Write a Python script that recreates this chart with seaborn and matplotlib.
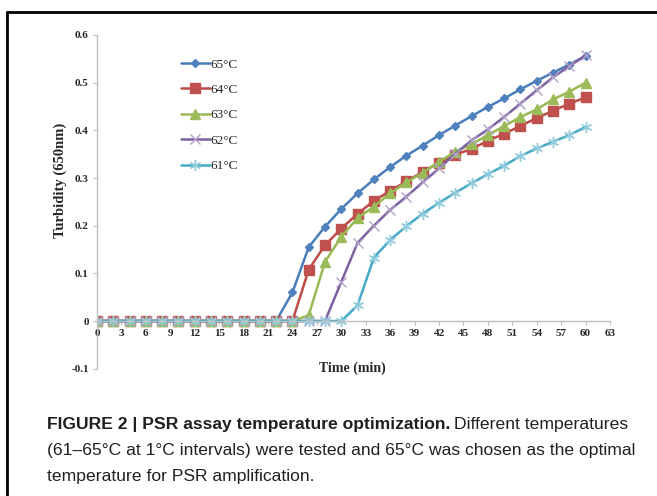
import matplotlib
matplotlib.use("Agg")
import matplotlib.pyplot as plt
import matplotlib.lines as mlines
import pandas as pd
import seaborn as sns

# Tiempo (min) y turbidez por temperatura
tiempo = [0, 2, 4, 6, 8, 10, 12, 14, 16, 18, 20, 22, 24, 26, 28, 30,
          32, 34, 36, 38, 40, 42, 44, 46, 48, 50, 52, 54, 56, 58, 60]
t65 = [0, 0, 0, 0, 0, 0, 0, 0, 0, 0, 0, 0, 0.060, 0.155, 0.198, 0.235,
       0.268, 0.297, 0.323, 0.347, 0.368, 0.390, 0.410, 0.430, 0.449, 0.467,
       0.486, 0.504, 0.521, 0.538, 0.556]
t64 = [0, 0, 0, 0, 0, 0, 0, 0, 0, 0, 0, 0, 0, 0.108, 0.159, 0.194,
       0.225, 0.252, 0.273, 0.293, 0.313, 0.332, 0.349, 0.361, 0.378, 0.393,
       0.409, 0.426, 0.441, 0.456, 0.469]
t63 = [0, 0, 0, 0, 0, 0, 0, 0, 0, 0, 0, 0, 0, 0.012, 0.124, 0.177,
       0.216, 0.240, 0.268, 0.291, 0.311, 0.334, 0.355, 0.371, 0.390, 0.409,
       0.428, 0.444, 0.465, 0.481, 0.500]
t62 = [0, 0, 0, 0, 0, 0, 0, 0, 0, 0, 0, 0, 0, 0, 0, 0.082,
       0.164, 0.200, 0.233, 0.261, 0.291, 0.320, 0.351, 0.379, 0.402, 0.428,
       0.456, 0.484, 0.511, 0.535, 0.557]
t61 = [0, 0, 0, 0, 0, 0, 0, 0, 0, 0, 0, 0, 0, 0, 0, 0,
       0.033, 0.133, 0.170, 0.199, 0.225, 0.248, 0.269, 0.289, 0.308, 0.326,
       0.346, 0.362, 0.376, 0.390, 0.407]

etiquetas = ["65°C", "64°C", "63°C", "62°C", "61°C"]
x_ticks = [0, 3, 6, 9, 12, 15, 18, 21, 24, 27, 30, 33, 36, 39, 42, 45, 48, 51, 54, 57, 60, 63]
x_labels = [str(v) for v in x_ticks]
y_ticks = [-0.1, 0, 0.1, 0.2, 0.3, 0.4, 0.5, 0.6]
y_labels = ["-0.1", "0", "0.1", "0.2", "0.3", "0.4", "0.5", "0.6"]

# estilos (linea, marcador, color marcador, tamaño)
estilos = [
    ("#4A7EBB", "D", "#4F81BD", 4.5),
    ("#BE4B48", "s", "#C0504D", 7),
    ("#98B954", "^", "#9BBB59", 7),
    ("#7D60A0", "x", "#B3A2C7", 7),
    ("#46AAC5", (6, 2, 0), "#93CDDD", 8),
]

sns.set_style("white")
serif = "Liberation Serif"

fig = plt.figure(figsize=(6.57, 4.96), dpi=100)
ax = fig.add_axes([97 / 657, 1 - 368.7 / 496, 513 / 657, (368.7 - 35) / 496])

handles = []
for serie, lab, (lc, mk, mc, ms) in zip([t65, t64, t63, t62, t61], etiquetas, estilos):
    df = pd.DataFrame({"Tiempo": tiempo, "Turbidez": serie})
    sns.lineplot(data=df, x="Tiempo", y="Turbidez", ax=ax, color=lc, linewidth=1.8,
                 marker=mk, markersize=ms, markerfacecolor=mc, markeredgecolor=mc,
                 markeredgewidth=1.0)
    handles.append(mlines.Line2D([], [], color=lc, linewidth=1.8, marker=mk,
                                 markersize=ms, markerfacecolor=mc,
                                 markeredgecolor=mc, label=lab))

ax.spines["top"].set_visible(False)
ax.spines["right"].set_visible(False)
ax.spines["bottom"].set_position(("data", 0))
for s in ["left", "bottom"]:
    ax.spines[s].set_color("#BFBFBF")
    ax.spines[s].set_linewidth(1.0)

ax.set_xlim(0, 63)
ax.set_ylim(-0.1, 0.6)
ax.set_xticks(x_ticks)
ax.set_xticklabels(x_labels, family=serif, weight="bold", fontsize=8)
ax.set_yticks(y_ticks)
ax.set_yticklabels(y_labels, family=serif, weight="bold", fontsize=8)
ax.tick_params(axis="both", direction="out", length=3, width=0.8, color="#BFBFBF",
               pad=3, bottom=True, left=True)

ax.set_xlabel("")
ax.set_ylabel("")
fig.text(352 / 657, 1 - 368 / 496, "Time (min)", ha="center", va="center",
         family=serif, weight="bold", fontsize=10)
fig.text(60 / 657, 1 - 180 / 496, "Turbidity (650nm)", ha="center", va="center",
         rotation=90, family=serif, weight="bold", fontsize=10.5)

ax.legend(handles=handles, loc="upper left", bbox_to_anchor=(0.163, 0.93),
          frameon=False, prop={"family": serif, "size": 9.5}, handlelength=2.2,
          handletextpad=0.05, labelspacing=1.0, borderpad=0, borderaxespad=0)

# marco de la figura
fig.add_artist(mlines.Line2D([7 / 657, 1], [1 - 12 / 496, 1 - 12 / 496],
                             color="black", linewidth=2))
fig.add_artist(mlines.Line2D([7 / 657, 7 / 657], [0, 1 - 12 / 496],
                             color="black", linewidth=2))

# leyenda de la figura
cap_font = "Liberation Sans"
cap_size = 12.6
y1 = 1 - 424 / 496
t_bold = fig.text(47 / 657, y1, "FIGURE 2 | PSR assay temperature optimization.",
                  ha="left", va="center", family=cap_font, weight="bold",
                  fontsize=cap_size, color="#231F20")
fig.canvas.draw()
bb = t_bold.get_window_extent(fig.canvas.get_renderer())
fig.text(bb.x1 / fig.bbox.width + 4 / 657, y1, "Different temperatures",
         ha="left", va="center", family=cap_font, fontsize=cap_size, color="#231F20")
fig.text(47 / 657, 1 - 451 / 496,
         "(61–65°C at 1°C intervals) were tested and 65°C was chosen as the optimal",
         ha="left", va="center", family=cap_font, fontsize=cap_size, color="#231F20")
fig.text(47 / 657, 1 - 477 / 496, "temperature for PSR amplification.",
         ha="left", va="center", family=cap_font, fontsize=cap_size, color="#231F20")

fig.savefig("out.png", dpi=100)
